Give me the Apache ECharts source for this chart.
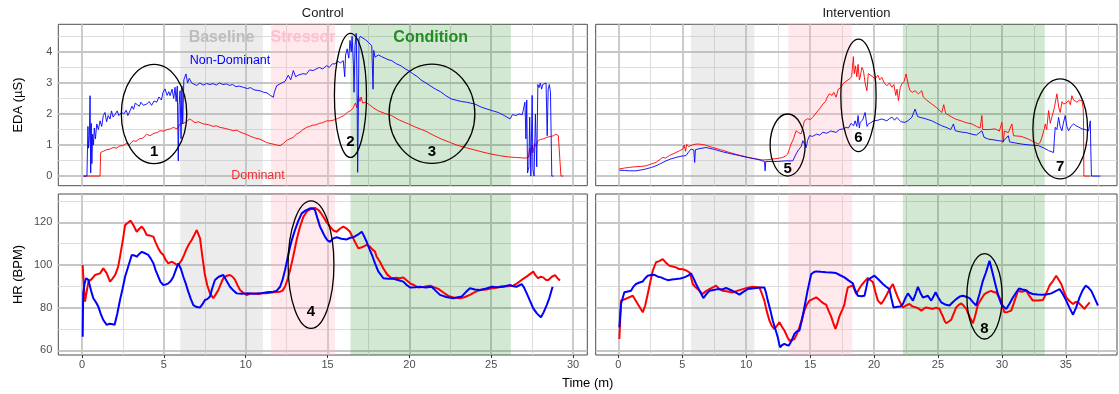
<!DOCTYPE html>
<html>
<head>
<meta charset="utf-8">
<script src="https://cdn.jsdelivr.net/npm/echarts@6/dist/echarts.min.js"></script>
<style>
  html, body { margin: 0; padding: 0; background: #fff; }
  #chart { width: 1119px; height: 394px; }
</style>
</head>
<body>
<div id="chart"></div>
<script>
// ---- data: [time (min), value] ----
const ctrlEdaNonDom = [[0.08,0],[0.3,0],[0.36,1.6],[0.4,0.9],[0.45,1.3],[0.49,2.59],[0.53,0.1],[0.56,1.7],[0.6,0.4],[0.65,1.35],[0.7,1.0],[0.75,1.55],[0.82,1.2],[0.9,1.68],[1.0,1.5],[1.1,1.78],[1.2,1.6],[1.3,1.95],[1.4,2.05],[1.5,1.75],[1.6,1.95],[1.71,1.84],[1.8,2.1],[1.9,1.9],[2.02,1.99],[2.15,2.1],[2.25,1.95],[2.42,2.05],[2.55,2.0],[2.7,2.12],[2.8,1.95],[2.93,2.1],[3.05,2.25],[3.15,2.15],[3.25,2.35],[3.34,2.32],[3.5,2.25],[3.6,2.38],[3.75,2.28],[3.95,2.32],[4.1,2.4],[4.25,2.28],[4.4,2.42],[4.56,2.38],[4.7,2.55],[4.85,2.45],[4.95,2.7],[5.07,2.81],[5.2,2.6],[5.3,2.72],[5.38,2.59],[5.5,2.8],[5.6,2.5],[5.68,2.86],[5.75,2.4],[5.82,2.9],[5.88,0.49],[5.93,2.3],[5.99,2.75],[6.05,1.2],[6.1,2.9],[6.15,1.68],[6.22,3.1],[6.35,3.29],[6.45,3.0],[6.55,3.15],[6.7,3.0],[6.8,3.02],[7.0,2.92],[7.2,3.0],[7.4,2.93],[7.6,2.98],[7.82,2.95],[8.0,2.98],[8.2,2.93],[8.4,3.0],[8.6,2.95],[8.84,2.97],[9.0,2.92],[9.2,2.95],[9.4,2.88],[9.6,2.9],[9.85,2.86],[10.1,2.82],[10.3,2.85],[10.5,2.78],[10.7,2.76],[10.87,2.75],[11.1,2.7],[11.3,2.68],[11.5,2.6],[11.69,2.54],[11.75,2.7],[11.89,2.91],[12.0,2.85],[12.2,3.0],[12.4,3.05],[12.6,3.25],[12.75,3.1],[12.91,3.4],[13.05,3.2],[13.2,3.25],[13.32,3.19],[13.5,3.3],[13.7,3.28],[13.9,3.42],[14.13,3.4],[14.3,3.45],[14.5,3.5],[14.7,3.45],[14.95,3.56],[15.1,3.5],[15.3,3.62],[15.45,3.61],[15.6,3.7],[15.8,3.65],[15.96,3.72],[16.05,3.2],[16.1,3.9],[16.2,4.1],[16.3,3.8],[16.37,4.37],[16.45,4.0],[16.5,4.5],[16.58,3.6],[16.62,2.7],[16.68,4.2],[16.75,4.6],[16.8,3.0],[16.84,0.12],[16.88,2.0],[16.92,4.42],[17.0,4.5],[17.1,4.45],[17.3,4.4],[17.49,4.31],[17.6,4.28],[17.7,4.2],[17.78,2.8],[17.82,4.05],[17.9,3.83],[18.1,3.9],[18.3,3.85],[18.5,3.8],[18.7,3.75],[18.92,3.72],[19.2,3.62],[19.5,3.55],[19.75,3.45],[19.95,3.4],[20.2,3.3],[20.5,3.2],[20.7,3.1],[20.95,3.02],[21.3,2.9],[21.6,2.8],[21.9,2.72],[22.2,2.6],[22.58,2.48],[22.9,2.44],[23.2,2.4],[23.5,2.38],[24.0,2.32],[24.4,2.22],[24.8,2.15],[25.1,2.1],[25.43,2.05],[25.8,1.95],[26.15,1.84],[26.3,1.98],[26.5,1.95],[26.7,2.0],[26.9,1.98],[27.06,2.38],[27.12,1.2],[27.17,2.45],[27.22,0.1],[27.3,0.3],[27.35,1.9],[27.42,0],[27.5,2.6],[27.55,0.2],[27.62,0],[27.7,2.0],[27.78,0.3],[27.85,2.95],[27.92,2.85],[28.0,3.0],[28.08,2.8],[28.15,2.95],[28.25,2.9],[28.35,3.0],[28.42,1.3],[28.48,2.8],[28.55,2.95],[28.62,2.7],[28.7,0],[28.8,0]];

const ctrlEdaDom = [[0.08,0],[1.1,0],[1.14,0.76],[1.3,0.8],[1.5,0.85],[1.71,0.87],[1.9,0.92],[2.1,0.9],[2.3,0.97],[2.5,0.98],[2.7,1.05],[2.9,1.02],[3.13,1.14],[3.3,1.12],[3.5,1.2],[3.7,1.22],[3.95,1.35],[4.15,1.3],[4.4,1.38],[4.6,1.4],[4.76,1.46],[5.0,1.45],[5.2,1.5],[5.4,1.52],[5.58,1.57],[5.8,1.52],[6.0,1.68],[6.2,1.7],[6.4,1.75],[6.55,1.84],[6.7,1.8],[6.9,1.72],[7.1,1.75],[7.41,1.68],[7.7,1.66],[8.0,1.6],[8.2,1.62],[8.43,1.57],[8.7,1.54],[9.0,1.5],[9.25,1.46],[9.45,1.48],[9.65,1.42],[10.0,1.35],[10.3,1.28],[10.6,1.22],[10.87,1.19],[11.28,1.08],[11.6,1.04],[11.9,1.0],[12.1,0.98],[12.3,1.05],[12.5,1.15],[12.7,1.2],[12.91,1.25],[13.1,1.35],[13.3,1.41],[13.5,1.5],[13.72,1.57],[13.9,1.6],[14.1,1.64],[14.3,1.65],[14.5,1.7],[14.7,1.72],[14.95,1.78],[15.15,1.78],[15.35,1.8],[15.6,1.85],[15.8,1.9],[16.0,1.95],[16.2,2.05],[16.4,2.1],[16.57,2.2],[16.7,2.35],[16.8,2.2],[16.88,2.59],[16.98,2.4],[17.05,2.55],[17.15,2.35],[17.3,2.38],[17.5,2.32],[17.8,2.2],[18.1,2.1],[18.5,2.02],[18.9,1.95],[19.4,1.8],[19.95,1.68],[20.4,1.57],[20.95,1.46],[21.45,1.32],[21.97,1.19],[22.5,1.08],[22.99,0.98],[23.5,0.91],[24.0,0.84],[24.5,0.77],[25.0,0.71],[25.5,0.66],[26.0,0.62],[26.5,0.6],[27.1,0.58],[27.27,0.6],[27.35,0.9],[27.4,0.65],[27.5,1.0],[27.55,0.75],[27.65,1.05],[27.75,0.95],[27.85,1.14],[28.0,1.18],[28.2,1.2],[28.4,1.25],[28.6,1.27],[28.8,1.3],[28.95,1.35],[29.1,1.3],[29.2,1.25],[29.26,0],[29.4,0]];

const intEdaNonDom = [[0.08,0.19],[0.5,0.18],[0.9,0.17],[1.38,0.17],[1.8,0.2],[2.17,0.23],[2.6,0.28],[2.95,0.33],[3.3,0.4],[3.73,0.49],[4.1,0.55],[4.51,0.6],[4.9,0.64],[5.3,0.66],[5.5,0.78],[5.69,0.87],[5.9,0.84],[5.97,0.44],[6.03,0.85],[6.3,0.88],[6.86,0.92],[7.5,0.86],[8.17,0.78],[8.8,0.72],[9.47,0.66],[10.1,0.6],[10.77,0.55],[11.2,0.5],[11.43,0.47],[11.48,0.17],[11.53,0.47],[12.34,0.47],[13.12,0.49],[13.64,0.49],[13.9,0.71],[14.1,0.85],[14.3,0.95],[14.43,1.14],[14.69,0.92],[14.8,1.15],[14.95,1.3],[15.2,1.28],[15.5,1.35],[15.75,1.32],[15.99,1.41],[16.3,1.38],[16.6,1.45],[17.03,1.41],[17.3,1.5],[17.6,1.52],[17.82,1.57],[18.0,1.55],[18.2,1.7],[18.4,1.62],[18.52,1.78],[18.65,1.6],[18.75,1.95],[18.85,1.55],[18.91,1.73],[19.1,1.8],[19.3,2.05],[19.45,1.6],[19.56,1.68],[19.75,1.72],[19.96,1.78],[20.3,1.8],[20.61,1.84],[21.0,1.78],[21.2,1.85],[21.4,1.9],[21.6,1.8],[21.78,1.89],[22.1,1.75],[22.43,1.73],[22.7,1.8],[22.95,1.89],[23.21,2.16],[23.4,1.92],[23.6,1.89],[24.0,1.85],[24.52,1.78],[24.9,1.7],[25.3,1.62],[25.7,1.56],[26.0,1.5],[26.21,1.68],[26.35,1.46],[26.8,1.42],[27.2,1.4],[27.65,1.35],[28.0,1.32],[28.43,1.46],[28.6,1.25],[28.95,1.19],[29.3,1.17],[29.74,1.14],[30.1,1.12],[30.5,1.3],[30.6,1.1],[31.0,1.07],[31.56,1.03],[32.2,1.0],[32.86,0.98],[33.3,0.9],[33.65,0.82],[34.04,0.76],[34.1,1.2],[34.17,1.57],[34.3,1.5],[34.43,1.89],[34.55,1.6],[34.69,1.46],[34.8,1.7],[34.95,1.95],[35.08,1.6],[35.21,1.46],[35.4,1.6],[35.6,1.68],[35.8,1.62],[36.0,1.58],[36.26,1.52],[36.5,1.5],[36.78,1.46],[36.91,1.78],[36.95,0.9],[37.0,0],[37.69,0]];

const intEdaDom = [[0.08,0.23],[0.5,0.26],[0.86,0.28],[1.3,0.3],[1.7,0.31],[2.17,0.33],[2.5,0.38],[2.95,0.44],[3.2,0.52],[3.47,0.6],[3.7,0.58],[3.99,0.66],[4.2,0.7],[4.51,0.76],[4.8,0.82],[5.04,0.87],[5.15,1.0],[5.25,0.8],[5.35,1.02],[5.5,0.95],[5.82,1.01],[6.1,1.03],[6.34,1.03],[6.8,1.0],[7.39,0.92],[8.0,0.85],[8.69,0.76],[9.3,0.69],[9.99,0.62],[10.6,0.56],[11.3,0.52],[11.7,0.53],[12.08,0.55],[12.5,0.57],[12.86,0.6],[13.05,0.64],[13.25,0.71],[13.4,0.9],[13.51,1.03],[13.7,1.2],[13.9,1.46],[14.1,1.4],[14.3,1.36],[14.45,1.6],[14.55,1.78],[14.8,1.85],[15.0,1.82],[15.2,1.89],[15.4,2.0],[15.6,2.1],[15.8,2.2],[15.99,2.32],[16.2,2.4],[16.35,2.55],[16.5,2.65],[16.7,2.6],[16.85,2.7],[17.03,2.54],[17.2,2.8],[17.4,2.85],[17.56,2.97],[17.8,3.05],[18.07,3.13],[18.25,3.2],[18.38,3.85],[18.45,3.3],[18.55,3.55],[18.65,3.2],[18.75,3.6],[18.85,3.1],[18.91,3.18],[19.05,3.5],[19.17,3.4],[19.3,3.0],[19.44,2.75],[19.55,3.3],[19.7,3.29],[19.9,3.2],[20.09,3.13],[20.3,3.25],[20.45,3.1],[20.61,3.18],[20.8,3.0],[21.0,2.91],[21.2,3.0],[21.39,2.86],[21.55,2.95],[21.7,2.6],[21.8,2.8],[21.91,2.43],[22.05,2.85],[22.17,2.97],[22.35,3.05],[22.5,3.29],[22.57,3.29],[22.7,2.9],[22.82,2.75],[23.0,2.7],[23.2,2.75],[23.47,2.65],[23.73,2.75],[23.85,2.55],[24.1,2.45],[24.52,2.32],[24.9,2.2],[25.3,2.05],[25.45,2.3],[25.6,2.02],[26.0,1.92],[26.35,1.84],[26.8,1.78],[27.2,1.72],[27.65,1.68],[28.0,1.6],[28.3,1.55],[28.43,1.95],[28.5,1.5],[28.6,1.46],[29.0,1.5],[29.48,1.52],[29.8,1.45],[30.0,1.73],[30.1,1.09],[30.2,1.45],[30.5,1.4],[30.78,1.68],[30.9,1.3],[31.04,1.35],[31.5,1.28],[32.08,1.19],[32.5,1.1],[32.86,1.03],[33.0,1.1],[33.13,1.25],[33.3,1.5],[33.39,1.68],[33.5,1.5],[33.65,2.11],[33.78,1.7],[33.9,1.89],[34.1,2.2],[34.3,2.65],[34.45,2.2],[34.56,2.05],[34.7,2.4],[34.82,2.32],[35.0,2.35],[35.21,2.43],[35.35,2.3],[35.47,2.59],[35.6,2.45],[35.75,2.5],[35.87,2.38],[36.05,2.45],[36.26,2.43],[36.35,2.2],[36.38,1.89],[36.41,0],[36.9,0]];

const ctrlHrDom = [[0.04,100],[0.07,95.3],[0.18,82.8],[0.39,92.2],[0.6,93.5],[0.79,95.3],[1.1,96.1],[1.3,98.4],[1.51,96.1],[1.71,92.2],[1.85,93.5],[2.02,95.3],[2.2,99],[2.32,103.9],[2.5,112],[2.63,118.7],[2.8,119.8],[2.97,120.8],[3.15,118.5],[3.34,115.6],[3.5,117],[3.65,118],[3.8,116.5],[3.95,114.1],[4.15,113.8],[4.36,113.3],[4.5,110.5],[4.66,107.8],[4.8,106],[4.97,104.7],[5.1,102.5],[5.27,100.8],[5.45,101.5],[5.58,101.2],[5.75,100.3],[5.88,100],[6.09,102.3],[6.25,105],[6.4,107.8],[6.55,110],[6.7,111.7],[6.85,114],[7.01,116.4],[7.1,115.5],[7.21,112.5],[7.35,104],[7.51,95.3],[7.65,90.5],[7.82,86.7],[8.02,84.4],[8.15,86],[8.33,88.3],[8.5,91.5],[8.63,93.8],[8.85,95],[9.04,95.3],[9.2,94.5],[9.35,93],[9.5,90.5],[9.65,88.3],[9.85,87],[10.06,85.9],[10.25,86.5],[10.47,86.7],[10.8,86.4],[11.1,86.9],[11.28,86.7],[11.7,87.2],[12.1,87.5],[12.25,88],[12.4,89.8],[12.55,93],[12.71,97.6],[12.9,104],[13.11,111.7],[13.3,117.5],[13.52,122.6],[13.75,125.2],[14.03,126.6],[14.25,126.7],[14.44,125.8],[14.6,124.3],[14.74,122.6],[14.95,120],[15.15,118],[15.35,116.2],[15.56,115.6],[15.75,117],[15.96,118],[16.15,117.2],[16.37,115.6],[16.6,112],[16.88,107.8],[17.1,108.3],[17.39,109.4],[17.59,108.6],[17.75,107.2],[17.9,106.3],[18.0,103.9],[18.2,101.5],[18.41,98.4],[18.65,95.5],[18.92,93.8],[19.2,94],[19.4,93.8],[19.63,94.1],[20.04,91.4],[20.3,90.5],[20.54,89.5],[20.9,89.8],[21.26,90.3],[21.5,89.6],[21.77,88.8],[22.1,87],[22.38,85.5],[22.7,84.8],[23.1,84.4],[23.4,85],[23.7,86],[24.0,87.3],[24.31,88.3],[24.7,88.5],[25.03,89.1],[25.3,89.3],[25.64,90],[26.0,90],[26.35,90.3],[26.6,91.5],[26.86,93],[27.2,94.8],[27.57,96.9],[27.72,95],[27.87,93.8],[28.0,94.5],[28.18,94.2],[28.35,93],[28.49,93],[28.7,94.5],[28.9,95.3],[29.05,93.8],[29.2,92.7]];

const ctrlHrNonDom = [[0.04,66.4],[0.07,86.7],[0.15,91],[0.24,93.8],[0.39,93],[0.55,88],[0.69,84.4],[0.85,82.5],[1.0,80.4],[1.15,77],[1.3,74.2],[1.51,71.9],[1.65,72.4],[1.81,72.3],[1.99,72],[2.15,77],[2.32,83.6],[2.48,89],[2.63,94.5],[2.85,100],[3.04,104.7],[3.2,104.5],[3.34,103.9],[3.5,105.2],[3.65,106.2],[3.85,105.5],[4.05,104.7],[4.2,103],[4.36,100.8],[4.5,97.5],[4.66,94.5],[4.8,92],[4.97,90.6],[5.1,90.8],[5.27,91.4],[5.42,92.5],[5.58,94.5],[5.72,97.5],[5.88,100.8],[6.05,98],[6.19,94.5],[6.35,91],[6.49,87.5],[6.65,84],[6.8,81.2],[7.0,80.3],[7.21,80.1],[7.35,81.5],[7.51,83.6],[7.65,84],[7.82,85.2],[7.95,89],[8.12,93],[8.35,94.5],[8.63,95.3],[8.8,93],[9.04,89.8],[9.25,88],[9.45,86.7],[9.75,86.5],[10.06,86.7],[10.5,86.5],[10.87,86.7],[11.3,87.2],[11.69,87.5],[11.9,88],[12.1,89.8],[12.25,93],[12.4,97.6],[12.55,103],[12.71,108.6],[12.85,112.5],[13.01,116.4],[13.2,120.5],[13.42,124.2],[13.65,125.5],[13.93,126.6],[14.1,126.4],[14.23,125.8],[14.38,122],[14.54,118],[14.7,115.5],[14.84,113.3],[15.0,111.5],[15.15,110.9],[15.35,112.5],[15.56,113],[15.85,112.3],[16.17,112],[16.4,112.8],[16.57,113],[16.85,114.2],[17.09,115.6],[17.2,114],[17.39,110.9],[17.59,107],[17.75,104],[17.9,100.8],[18.1,97],[18.41,93.8],[18.7,93.6],[19.02,93.5],[19.3,93],[19.63,92.2],[19.85,90.5],[20.04,89.5],[20.35,89.6],[20.65,89.8],[21.0,89.5],[21.36,89.8],[21.6,88],[21.87,86],[22.25,85],[22.68,84.4],[22.9,84.8],[23.19,85.2],[23.45,87.3],[23.7,89.1],[24.0,88.5],[24.31,88.3],[24.7,89],[25.03,89.8],[25.4,89.6],[25.74,89.8],[26.15,90.6],[26.35,90],[26.55,89.8],[26.86,91],[27.0,89.5],[27.17,86.7],[27.35,83.5],[27.57,79.7],[27.8,77.2],[28.04,75.5],[28.2,77.8],[28.39,81.2],[28.55,84.5],[28.75,89.8]];

const intHrDom = [[0.08,65.3],[0.21,83.3],[0.6,84.2],[1.13,85.6],[1.52,81.7],[1.91,77.8],[2.1,81],[2.3,86.4],[2.5,92],[2.69,97.3],[2.95,101.3],[3.2,101.8],[3.47,102.8],[3.7,101.2],[3.99,99.7],[4.25,99.3],[4.51,98.9],[4.75,98.1],[5.04,98],[5.3,97.5],[5.56,96.6],[5.7,94],[5.82,91.1],[6.0,89.8],[6.21,88.7],[6.4,87.5],[6.6,86.4],[6.85,87.8],[7.12,88.7],[7.4,89.5],[7.64,90.3],[7.9,88.8],[8.17,87.9],[8.55,87.6],[8.95,87.1],[9.35,88],[9.73,88.7],[10.1,89.3],[10.51,89.8],[11.03,89.5],[11.2,87],[11.42,83.3],[11.6,78.5],[11.82,73.9],[12.0,71.5],[12.21,70],[12.4,71.5],[12.6,73.2],[12.8,71],[12.99,69.3],[13.2,66.5],[13.38,64.5],[13.55,64.8],[13.77,65.3],[13.95,67.5],[14.16,70.8],[14.35,74.5],[14.55,78.6],[14.75,81.5],[14.95,83.3],[15.2,84],[15.47,84.8],[15.66,84],[15.86,82.9],[16.05,82],[16.25,81.4],[16.45,78.5],[16.64,75.9],[16.8,73],[16.98,70],[17.15,73],[17.29,75.9],[17.5,78.8],[17.68,81.4],[17.8,85.5],[17.95,89.5],[18.15,90],[18.34,90.3],[18.47,88.5],[18.6,86.4],[18.8,88.5],[18.99,90.3],[19.25,92.2],[19.51,93.9],[19.7,93],[19.91,92],[20.1,87.5],[20.3,83.3],[20.56,81.7],[20.75,83.5],[20.95,85.6],[21.2,88.5],[21.47,91.1],[21.65,88],[21.86,84.8],[22.05,82.3],[22.25,80.1],[22.5,81],[22.77,81.7],[23.0,80.6],[23.29,80.1],[23.5,79.5],[23.69,78.6],[23.9,79.5],[24.08,80.1],[24.35,79.7],[24.6,79.4],[24.85,80],[25.12,79.4],[25.25,77.5],[25.38,75.9],[25.5,74],[25.64,72.7],[25.85,73.5],[26.03,74.3],[26.25,77.5],[26.42,80.1],[26.62,81.3],[26.82,82],[27.0,81],[27.21,79.4],[27.45,76],[27.73,72.7],[27.9,76],[28.12,81.4],[28.4,84.2],[28.64,86.4],[28.9,87.3],[29.16,87.9],[29.35,87.3],[29.55,87.1],[29.75,85.3],[29.95,83.3],[30.1,79.5],[30.2,77.8],[30.45,78],[30.73,78.6],[30.95,82.5],[31.25,87.9],[31.55,87.5],[31.9,87.9],[32.15,85.5],[32.42,83.3],[32.8,83.4],[33.21,83.6],[33.45,86.5],[33.72,90.3],[34.0,92.6],[34.25,95],[34.45,93],[34.64,91.1],[34.85,87.5],[35.03,84.8],[35.3,83],[35.56,81.7],[35.75,82.6],[35.95,82.5],[36.2,81],[36.46,79.4],[36.65,81],[36.86,82.5]];

const intHrNonDom = [[0.08,70.8],[0.21,81.7],[0.47,87.2],[0.75,87.6],[0.99,87.9],[1.2,90],[1.38,91.1],[1.65,91.8],[1.91,92.3],[2.1,93.8],[2.3,95],[2.55,95.3],[2.82,95.4],[3.1,94.5],[3.34,94.2],[3.6,93.5],[3.87,92.9],[4.2,93.2],[4.51,93.4],[4.85,93.7],[5.16,94.2],[5.45,95],[5.69,96.1],[5.9,93.5],[6.08,91.1],[6.35,88],[6.65,84.5],[6.9,86.5],[7.12,87.9],[7.45,88.3],[7.78,88.7],[8.1,88.5],[8.43,89.2],[8.7,88.5],[8.95,87.9],[9.2,87],[9.47,86.1],[9.8,87.5],[10.12,88.7],[10.45,89],[10.77,89.2],[11.1,89.4],[11.42,89.5],[11.55,87],[11.69,83.3],[11.9,78.5],[12.08,73.9],[12.3,69.5],[12.47,66.1],[12.58,63],[12.65,61.4],[12.82,62.5],[12.99,63],[13.15,62.5],[13.33,62.2],[13.55,64.5],[13.77,67.7],[13.95,68.8],[14.16,69.3],[14.35,74],[14.55,80.1],[14.8,88],[15.08,95.7],[15.27,96.6],[15.47,97],[15.85,96.8],[16.25,96.6],[16.65,96.5],[17.03,96.2],[17.35,95.2],[17.68,94.2],[18.0,92.8],[18.34,91.4],[18.5,88.5],[18.73,85.6],[19.0,85.4],[19.25,85.6],[19.38,89],[19.51,92.9],[19.75,94],[20.03,95],[20.35,93.2],[20.69,91.1],[20.95,89.8],[21.2,88.7],[21.35,84.5],[21.52,80.1],[21.86,80.4],[22.05,80.5],[22.25,81.7],[22.45,84.5],[22.65,86.7],[22.85,85],[23.04,83.3],[23.25,86.5],[23.43,89.8],[23.62,87],[23.82,84.8],[24.0,85.1],[24.21,85.6],[24.47,83.3],[24.65,85.2],[24.81,87.2],[25.0,85],[25.25,82.5],[25.55,81.5],[25.9,81],[26.15,82.5],[26.42,84],[26.7,85.2],[26.95,85.6],[27.2,85.1],[27.47,84.5],[27.75,82.5],[27.99,81],[28.25,86.5],[28.51,92.6],[28.75,96.5],[29.03,102],[29.3,95.5],[29.55,89.5],[29.75,85],[29.95,81.7],[30.15,80.3],[30.34,79.4],[30.6,82],[30.86,84.8],[31.1,87],[31.33,89],[31.6,88.5],[31.9,88.2],[32.15,87],[32.42,86.4],[32.8,86.2],[33.21,86.1],[33.55,86.3],[33.86,86.7],[34.2,87.8],[34.51,88.7],[34.75,86.5],[35.03,83.3],[35.3,79.8],[35.56,76.7],[35.8,80],[36.07,84.8],[36.3,88],[36.54,90.3],[36.75,89.5],[36.99,87.9],[37.25,84.5],[37.51,81]];

// phase bands (start, end) in minutes
const phaseNames = ['Baseline', 'Stressor', 'Condition'];
const ctrlPhases = [[6.0, 11.05], [11.55, 15.45], [16.4, 26.2]];
const intPhases = [[5.68, 10.64], [13.3, 18.29], [22.25, 33.35]];

// ticks
const ctrlTimeTicks = [0, 5, 10, 15, 20, 25, 30];
const ctrlTimeMinor = [2.5, 7.5, 12.5, 17.5, 22.5, 27.5];
const intTimeTicks = [0, 5, 10, 15, 20, 25, 30, 35];
const intTimeMinor = [2.5, 7.5, 12.5, 17.5, 22.5, 27.5, 32.5, 37.5];
const edaTicks = [0, 1, 2, 3, 4];
const edaMinor = [0.5, 1.5, 2.5, 3.5, 4.5];
const hrTicks = [60, 80, 100, 120];
const hrMinor = [70, 90, 110, 130];

// numbered ellipses: panel, centre (t, v), radii (t, v), label position v
const notes = [
  { g: 0, t: 4.4, v: 2.0, rt: 2.0, rv: 1.6, lv: 0.77, text: '1' },
  { g: 0, t: 16.4, v: 2.6, rt: 0.98, rv: 2.0, lv: 1.1, text: '2' },
  { g: 0, t: 21.38, v: 2.01, rt: 2.62, rv: 1.6, lv: 0.77, text: '3' },
  { g: 2, t: 13.99, v: 100.2, rt: 1.4, rv: 29.9, lv: 78, text: '4' },
  { g: 1, t: 13.24, v: 1.0, rt: 1.37, rv: 1.0, lv: 0.23, text: '5' },
  { g: 1, t: 18.78, v: 2.6, rt: 1.38, rv: 1.81, lv: 1.23, text: '6' },
  { g: 1, t: 34.56, v: 1.52, rt: 2.14, rv: 1.61, lv: 0.29, text: '7' },
  { g: 3, t: 28.64, v: 85.3, rt: 1.38, rv: 20, lv: 70, text: '8' }
];

const FONT = '"Liberation Sans", Arial, Helvetica, sans-serif';
const RED = '#ff0000';
const BLUE = '#0000ff';
const phaseFill = ['rgba(185,185,185,0.27)', 'rgba(255,182,193,0.3)', 'rgba(34,139,34,0.2)'];
const phaseText = ['#bdbdbd', '#ffc0cb', '#228b22'];

const majorStyle = { color: '#c6c6c6', width: 1.8, type: 'solid' };
const minorStyle = { color: '#dddddd', width: 1.1, type: 'solid' };

const chart = echarts.init(document.getElementById('chart'));

const grids = [
  { left: 58.3, top: 24.3, width: 529, height: 161.4 },
  { left: 595.7, top: 24.3, width: 521.3, height: 161.4 },
  { left: 58.3, top: 194, width: 529, height: 161 },
  { left: 595.7, top: 194, width: 521.3, height: 161 }
].map(g => Object.assign(g, {
  show: true, borderColor: '#4d4d4d', borderWidth: 1, backgroundColor: '#fff',
  containLabel: false, outerBoundsMode: 'none'
}));

function xAxis(g, min, max, ticks, showLabels) {
  return {
    gridIndex: g, type: 'value', min: min, max: max,
    axisLine: { show: false }, splitLine: { show: false },
    axisTick: { show: showLabels, customValues: ticks, length: 3, lineStyle: { color: '#333' } },
    axisLabel: { show: showLabels, customValues: ticks, margin: 4, fontSize: 11, color: '#4d4d4d', fontFamily: FONT }
  };
}
function yAxis(g, min, max, ticks, showLabels) {
  return {
    gridIndex: g, type: 'value', min: min, max: max,
    axisLine: { show: false }, splitLine: { show: false },
    axisTick: { show: showLabels, customValues: ticks, length: 3, lineStyle: { color: '#333' } },
    axisLabel: { show: showLabels, customValues: ticks, margin: 6, fontSize: 11, color: '#4d4d4d', fontFamily: FONT }
  };
}

function gridLines(xMajor, xMinor, yMajor, yMinor) {
  return {
    silent: true, z: 1, animation: false, symbol: ['none', 'none'],
    label: { show: false }, emphasis: { disabled: true },
    data: [].concat(
      xMinor.map(v => ({ xAxis: v, lineStyle: minorStyle })),
      yMinor.map(v => ({ yAxis: v, lineStyle: minorStyle })),
      xMajor.map(v => ({ xAxis: v, lineStyle: majorStyle })),
      yMajor.map(v => ({ yAxis: v, lineStyle: majorStyle }))
    )
  };
}
function phaseAreas(phases) {
  return {
    silent: true, z: 1.5, animation: false, label: { show: false }, emphasis: { disabled: true },
    data: phases.map((p, i) => [
      { xAxis: p[0], itemStyle: { color: phaseFill[i] } },
      { xAxis: p[1] }
    ])
  };
}

function lineSeries(g, data, color, width, extra) {
  return Object.assign({
    type: 'line', xAxisIndex: g, yAxisIndex: g, data: data,
    showSymbol: false, symbol: 'none', z: 3, animation: false,
    lineStyle: { color: color, width: width }, itemStyle: { color: color },
    emphasis: { disabled: true }
  }, extra || {});
}

const panels = [
  { g: 0, dom: ctrlEdaDom, nd: ctrlEdaNonDom, w: 0.9, xt: ctrlTimeTicks, xm: ctrlTimeMinor, yt: edaTicks, ym: edaMinor, ph: ctrlPhases },
  { g: 1, dom: intEdaDom, nd: intEdaNonDom, w: 0.9, xt: intTimeTicks, xm: intTimeMinor, yt: edaTicks, ym: edaMinor, ph: intPhases },
  { g: 2, dom: ctrlHrDom, nd: ctrlHrNonDom, w: 2, xt: ctrlTimeTicks, xm: ctrlTimeMinor, yt: hrTicks, ym: hrMinor, ph: ctrlPhases },
  { g: 3, dom: intHrDom, nd: intHrNonDom, w: 2, xt: intTimeTicks, xm: intTimeMinor, yt: hrTicks, ym: hrMinor, ph: intPhases }
];

const series = [];
panels.forEach(p => {
  series.push(lineSeries(p.g, p.dom, RED, p.w, {
    markLine: gridLines(p.xt, p.xm, p.yt, p.ym),
    markArea: phaseAreas(p.ph)
  }));
  series.push(lineSeries(p.g, p.nd, BLUE, p.w));
});

chart.setOption({
  animation: false,
  backgroundColor: '#fff',
  textStyle: { fontFamily: FONT },
  grid: grids,
  xAxis: [
    xAxis(0, -1.45, 30.87, ctrlTimeTicks, false),
    xAxis(1, -1.77, 39.0, intTimeTicks, false),
    xAxis(2, -1.45, 30.87, ctrlTimeTicks, true),
    xAxis(3, -1.77, 39.0, intTimeTicks, true)
  ],
  yAxis: [
    yAxis(0, -0.31, 4.89, edaTicks, true),
    yAxis(1, -0.31, 4.89, edaTicks, false),
    yAxis(2, 57.8, 133.3, hrTicks, true),
    yAxis(3, 57.8, 133.3, hrTicks, false)
  ],
  series: series
});

// annotations placed through the axes
function px(g, t, v) { return chart.convertToPixel({ gridIndex: g }, [t, v]); }
function label(x, y, text, font, fill, rotation) {
  return {
    type: 'text', x: x, y: y, rotation: rotation || 0, z: 100, silent: true,
    style: { text: text, font: font, fill: fill, align: 'center', verticalAlign: 'middle',
             textAlign: 'center', textVerticalAlign: 'middle' }
  };
}

const graphics = [];
notes.forEach(n => {
  const c = px(n.g, n.t, n.v);
  const e = px(n.g, n.t + n.rt, n.v + n.rv);
  graphics.push({
    type: 'ellipse', z: 100, silent: true,
    shape: { cx: c[0], cy: c[1], rx: Math.abs(e[0] - c[0]), ry: Math.abs(e[1] - c[1]) },
    style: { fill: null, stroke: '#000', lineWidth: 1.3 }
  });
  const l = px(n.g, n.t, n.lv);
  graphics.push(label(l[0], l[1], n.text, 'bold 15px ' + FONT, '#000'));
});

ctrlPhases.forEach((p, i) => {
  const c = px(0, (p[0] + p[1]) / 2, 4.45);
  graphics.push(label(c[0], c[1], phaseNames[i], 'bold 16px ' + FONT, phaseText[i]));
});
const nd = px(0, 9.04, 3.72);
graphics.push(label(nd[0], nd[1], 'Non-Dominant', '12.5px ' + FONT, BLUE));
const dm = px(0, 10.75, 0.03);
graphics.push(label(dm[0], dm[1], 'Dominant', '12.5px ' + FONT, '#f03030'));

// strip and axis titles
graphics.push(label(322.8, 13.3, 'Control', '13px ' + FONT, '#1a1a1a'));
graphics.push(label(856.4, 13.3, 'Intervention', '13px ' + FONT, '#1a1a1a'));
graphics.push(label(18, 105, 'EDA (µS)', '13px ' + FONT, '#000', Math.PI / 2));
graphics.push(label(18, 274.5, 'HR (BPM)', '13px ' + FONT, '#000', Math.PI / 2));
graphics.push(label(587.7, 383, 'Time (m)', '13px ' + FONT, '#000'));

chart.setOption({ graphic: graphics });
</script>
</body>
</html>
